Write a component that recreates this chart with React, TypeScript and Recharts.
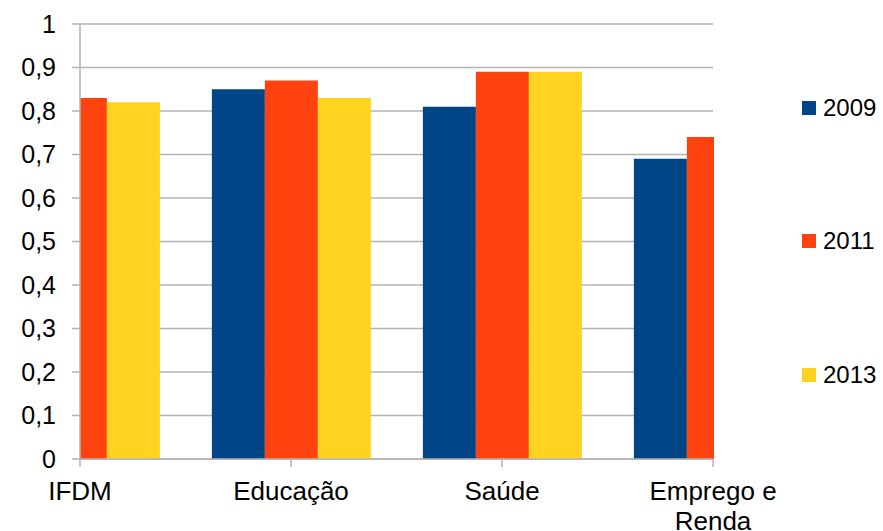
import React from 'react';
import { BarChart, Bar, XAxis, YAxis, CartesianGrid, Legend, Rectangle } from 'recharts';

const categories = ['IFDM', 'Educação', 'Saúde', 'Emprego e Renda'];
const years = ['2009', '2011', '2013'];
const values2009 = [null, 0.85, 0.81, 0.69];
const values2011 = [0.83, 0.87, 0.89, 0.74];
const values2013 = [0.82, 0.83, 0.89, null];
const yTicks = [0, 0.1, 0.2, 0.3, 0.4, 0.5, 0.6, 0.7, 0.8, 0.9, 1];

const colors = ['#004586', '#ff420e', '#ffd320'];
const gridColor = '#b3b3b3';
const font = '"Liberation Sans", Arial, sans-serif';

// plot area edges (left = yAxis width, right = width - margin.right)
const PLOT_LEFT = 80;
const PLOT_RIGHT = 714;

const data = categories.map((name, i) => ({
    name,
    '2009': values2009[i],
    '2011': values2011[i],
    '2013': values2013[i],
}));

const fmt = (v: number) => (v === 0 || v === 1 ? String(v) : v.toFixed(1).replace('.', ','));

// break long labels into lines of at most ~10 chars
const splitLabel = (s: string) => {
    const lines: string[] = [];
    let cur = '';
    s.split(' ').forEach((w) => {
        if (cur && (cur + ' ' + w).length > 10) {
            lines.push(cur);
            cur = w;
        } else {
            cur = cur ? cur + ' ' + w : w;
        }
    });
    if (cur) lines.push(cur);
    return lines;
};

const CategoryTick = ({ x, y, payload }: any) => (
    <text x={x} y={y} textAnchor="middle" fontSize={26} fontFamily={font} fill="#000">
        {splitLabel(payload.value).map((line, i) => (
            <tspan key={i} x={x} dy={i === 0 ? '0.71em' : 30}>
                {line}
            </tspan>
        ))}
    </text>
);

// bars hanging over the plot edges get cut off, like the original
const ClippedBar = (props: any) => {
    const { x, width } = props;
    const x0 = Math.max(x, PLOT_LEFT);
    const x1 = Math.min(x + width, PLOT_RIGHT);
    if (x1 <= x0) return null;
    return <Rectangle {...props} x={x0} width={x1 - x0} />;
};

const SideLegend = () => (
    <div style={{ fontFamily: font, fontSize: 24, color: '#000' }}>
        {years.map((y, i) => (
            <div key={y} style={{ height: 133.5, display: 'flex', alignItems: 'center' }}>
                <span style={{ width: 14, height: 14, background: colors[i], marginRight: 7 }} />
                <span>{y}</span>
            </div>
        ))}
    </div>
);

export default function App() {
    return (
        <div style={{ position: 'absolute', left: 0, top: 0, width: 883, height: 531, background: '#fff' }}>
            <BarChart
                width={883}
                height={531}
                data={data}
                margin={{ top: 24, right: 170, left: 0, bottom: 0 }}
                barCategoryGap="12.5%"
                barGap={0}
            >
                <CartesianGrid vertical={false} stroke={gridColor} strokeWidth={1.5} />
                <XAxis
                    dataKey="name"
                    height={72}
                    padding={{ left: -105.5, right: -105.5 }}
                    interval={0}
                    tick={<CategoryTick />}
                    tickSize={8}
                    tickMargin={15}
                    axisLine={{ stroke: gridColor, strokeWidth: 1.5 }}
                    tickLine={{ stroke: gridColor, strokeWidth: 1.5 }}
                />
                <YAxis
                    width={80}
                    domain={[0, 1]}
                    ticks={yTicks}
                    interval={0}
                    tickFormatter={fmt}
                    tickSize={8}
                    tickMargin={16}
                    tick={{ fontSize: 25, fontFamily: font, fill: '#000' }}
                    axisLine={{ stroke: gridColor, strokeWidth: 1.5 }}
                    tickLine={{ stroke: gridColor, strokeWidth: 1.5 }}
                />
                <YAxis
                    yAxisId="right"
                    orientation="right"
                    width={0}
                    domain={[0, 1]}
                    tick={false}
                    tickLine={false}
                    axisLine={{ stroke: gridColor, strokeWidth: 1.5 }}
                />
                <Legend
                    layout="vertical"
                    align="center"
                    verticalAlign="middle"
                    content={<SideLegend />}
                    wrapperStyle={{ left: 802, top: 41, width: 81, height: 400 }}
                />
                {years.map((y, i) => (
                    <Bar key={y} dataKey={y} fill={colors[i]} shape={<ClippedBar />} isAnimationActive={false} />
                ))}
            </BarChart>
        </div>
    );
}
